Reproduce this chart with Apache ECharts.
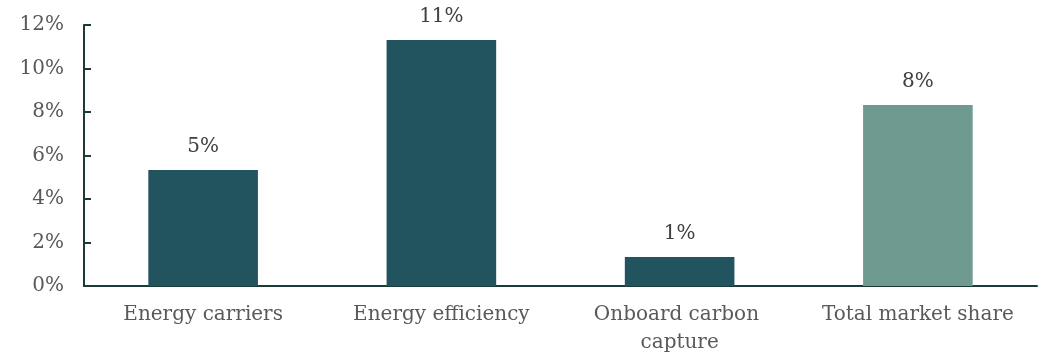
<!DOCTYPE html>
<html>
<head>
<meta charset="utf-8">
<script src="https://cdn.jsdelivr.net/npm/echarts@6/dist/echarts.min.js"></script>
<style>
html, body { margin: 0; padding: 0; background: #fff; }
#main { width: 1045px; height: 355px; }
</style>
</head>
<body>
<div id="main"></div>
<script>
var categories = ['Energy carriers', 'Energy efficiency', 'Onboard carbon capture', 'Total market share'];
var shareValues = [5.33, 11.31, 1.33, 8.32];
var barColors = ['#22545f', '#22545f', '#22545f', '#6e9a8f'];
var yTicks = [0, 2, 4, 6, 8, 10, 12];

var fontFamily = '"DejaVu Serif", "Liberation Serif", serif';

var myChart = echarts.init(document.getElementById('main'));

var option = {
    animation: false,
    grid: { left: 84, right: 8, top: 25, bottom: 69, outerBoundsMode: 'none', containLabel: false },
    xAxis: {
        type: 'category',
        data: categories,
        axisLine: { lineStyle: { color: '#1b3b3b', width: 2 } },
        axisTick: { show: false },
        axisLabel: {
            interval: 0,
            hideOverlap: false,
            color: '#595959',
            fontFamily: fontFamily,
            fontSize: 20,
            margin: 15,
            lineHeight: 28,
            width: 215,
            overflow: 'break'
        }
    },
    yAxis: {
        type: 'value',
        min: yTicks[0],
        max: yTicks[yTicks.length - 1],
        interval: 2,
        splitLine: { show: false },
        axisLine: { show: true, lineStyle: { color: '#1b3b3b', width: 2 } },
        axisTick: { show: true, inside: true, length: 7, lineStyle: { color: '#1b3b3b', width: 2 } },
        axisLabel: {
            color: '#595959',
            fontFamily: fontFamily,
            fontSize: 20,
            margin: 20,
            formatter: function (v) { return v + '%'; }
        }
    },
    series: [{
        type: 'bar',
        barWidth: '46%',
        data: shareValues.map(function (v, i) {
            return { value: v, itemStyle: { color: barColors[i] } };
        }),
        label: {
            show: true,
            position: 'top',
            distance: 13,
            color: '#404040',
            fontFamily: fontFamily,
            fontSize: 20,
            formatter: function (p) { return Math.round(p.value) + '%'; }
        }
    }]
};

myChart.setOption(option);
</script>
</body>
</html>
